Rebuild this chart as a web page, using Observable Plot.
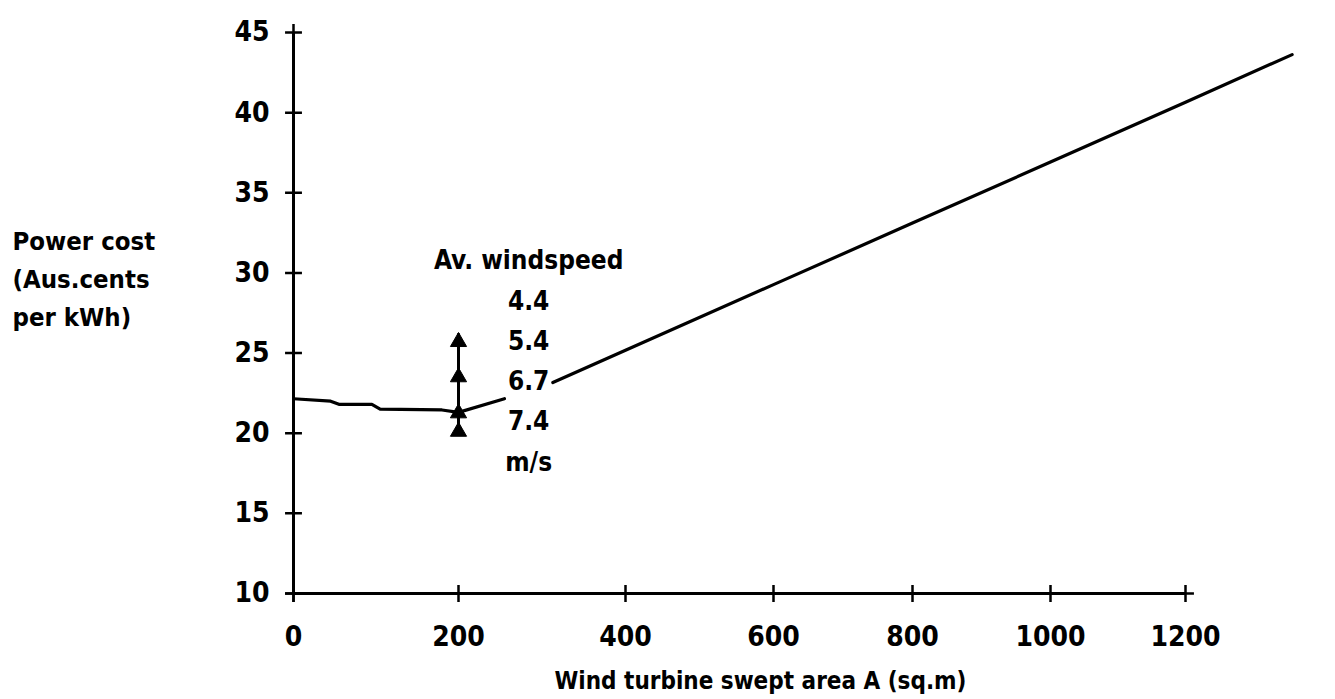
<!DOCTYPE html>
<html>
<head>
<meta charset="utf-8">
<script src="https://cdn.jsdelivr.net/npm/d3@7"></script>
<script src="https://cdn.jsdelivr.net/npm/@observablehq/plot@0.6"></script>
<style>
  html, body { margin: 0; padding: 0; background: #fff; overflow: hidden; }
</style>
</head>
<body>
<div id="chart"></div>
<script>
// ---- data ----
const xTicks = [0, 200, 400, 600, 800, 1000, 1200];
const yTicks = [10, 15, 20, 25, 30, 35, 40, 45];
// cost curve (swept area in sq.m, cents per kWh); null marks the gap behind the "6.7" label
const curveArea = [0, 45, 55, 95, 105, 180, 200, 255, null, 313, 400, 600, 800, 1000, 1200, 1358];
const curveCost = [22.15, 22.0, 21.8, 21.8, 21.5, 21.45, 21.3, 22.15, null, 23.16, 25.18, 29.27, 33.11, 36.92, 40.65, 43.62];
// windspeed markers at A = 200
const windArea = 200;
const windSpeeds = ["4.4", "5.4", "6.7", "7.4"];
const windCost = [25.7, 23.5, 21.25, 20.1];

const curve = curveArea.map((a, i) => ({area: a, cost: curveCost[i]}));
const wind = windSpeeds.map((s, i) => ({speed: s, area: windArea, cost: windCost[i]}));

const FONT = "'DejaVu Sans Condensed', 'DejaVu Sans', sans-serif";

const chart = Plot.plot({
  width: 1335,
  height: 699,
  marginLeft: 293,
  marginRight: 150,
  marginTop: 32,
  marginBottom: 106,
  style: {fontFamily: FONT, fontSize: "28px", fontWeight: "bold", color: "#000", background: "#fff", overflow: "visible"},
  x: {
    type: "linear",
    domain: xTicks,
    range: [293, 458, 625, 773, 912, 1050, 1185],
    ticks: xTicks,
    tickFormat: d => String(d),
    tickSize: 0,
    tickPadding: 33,
    label: null
  },
  y: {
    domain: [10, 45],
    range: [593, 32],
    ticks: yTicks,
    tickFormat: d => String(d),
    tickSize: 0,
    tickPadding: 24,
    label: null
  },
  marks: [
    // axis lines
    Plot.ruleY([10], {x1: 0, x2: 1200, stroke: "#000", strokeWidth: 3}),
    Plot.ruleX([0], {y1: 10, y2: 45, stroke: "#000", strokeWidth: 3}),
    // crossing tick marks
    Plot.dot(xTicks, {x: d => d, y: 10, symbol: "plus", r: 5.5, stroke: "#000", strokeWidth: 2.5}),
    Plot.dot(yTicks, {x: 0, y: d => d, symbol: "plus", r: 5.5, stroke: "#000", strokeWidth: 2.5}),
    // cost curve
    Plot.line(curve, {x: "area", y: "cost", stroke: "#000", strokeWidth: 3.2, curve: "linear"}),
    // windspeed markers
    Plot.ruleX([windArea], {y1: d3.min(windCost), y2: d3.max(windCost) + 0.5, stroke: "#000", strokeWidth: 3}),
    Plot.dot(wind, {x: "area", y: "cost", symbol: "triangle", r: 6, fill: "#000", stroke: "#000", strokeWidth: 1}),
    // windspeed annotation
    Plot.text([["Av. windspeed", ...windSpeeds, "m/s"].join("\n")], {
      x: 284, y: 24.75, text: d => d, textAnchor: "middle", lineAnchor: "middle",
      lineHeight: 1.55, fontSize: 26, fontFamily: FONT, fontWeight: "bold", fill: "#000"
    }),
    // y-axis title
    Plot.text(["Power cost\n(Aus.cents\nper kWh)"], {
      frameAnchor: "left", dx: -281, dy: -37.5, text: d => d, textAnchor: "start", lineAnchor: "middle",
      lineHeight: 1.5, fontSize: 25.5, fontFamily: FONT, fontWeight: "bold", fill: "#000"
    }),
    // x-axis title
    Plot.text(["Wind turbine swept area A (sq.m)"], {
      frameAnchor: "bottom", dx: 21, dy: 88, text: d => d, textAnchor: "middle", lineAnchor: "middle",
      fontSize: 24, fontFamily: FONT, fontWeight: "bold", fill: "#000"
    })
  ]
});

document.getElementById("chart").appendChild(chart);
</script>
</body>
</html>
